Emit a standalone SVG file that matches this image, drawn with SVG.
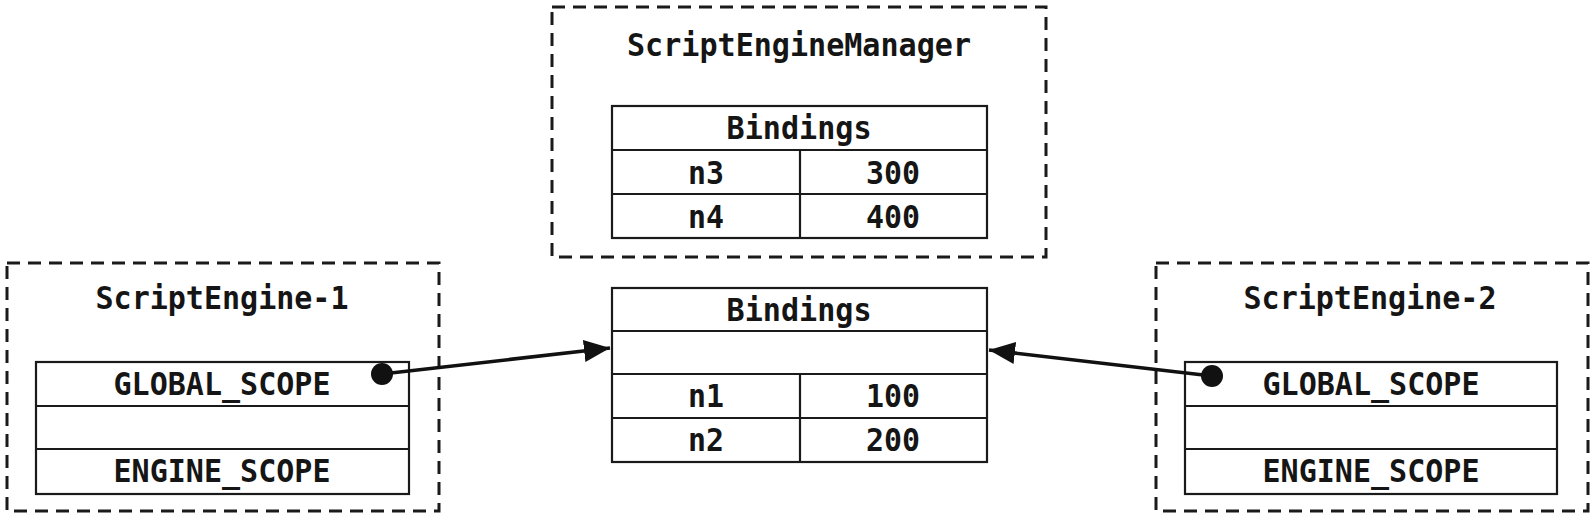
<svg xmlns="http://www.w3.org/2000/svg" width="1594" height="516" viewBox="0 0 1594 516">
<style>
.dash{fill:none;stroke:#1a1a1a;stroke-width:3;stroke-dasharray:13 8}
.cell{fill:#fff;stroke:#1a1a1a;stroke-width:2.2}
.t{font-family:"DejaVu Sans Mono","Liberation Mono",monospace;font-size:32px;font-weight:bold;fill:#151515;text-anchor:middle}
.conn{stroke:#111;stroke-width:3.5;fill:none}
</style>
<defs>
<marker id="arr" viewBox="0 0 26 22" refX="26" refY="11" markerWidth="26" markerHeight="22" markerUnits="userSpaceOnUse" orient="auto">
<path d="M0,0 L26,11 L0,22 z" fill="#111"/>
</marker>
</defs>
<rect width="1594" height="516" fill="#fff"/>
<g id="manager">
<rect class="dash" x="552" y="7" width="494" height="250"/>
<text class="t" x="799" y="56" textLength="344" lengthAdjust="spacingAndGlyphs">ScriptEngineManager</text>
<rect class="cell" x="612" y="106" width="375" height="132"/>
<line class="cell" x1="612" y1="150" x2="987" y2="150"/>
<line class="cell" x1="612" y1="194" x2="987" y2="194"/>
<line class="cell" x1="800" y1="150" x2="800" y2="238"/>
<text class="t" x="799" y="139" textLength="145" lengthAdjust="spacingAndGlyphs">Bindings</text>
<text class="t" x="706" y="184" textLength="36" lengthAdjust="spacingAndGlyphs">n3</text>
<text class="t" x="893" y="184" textLength="54" lengthAdjust="spacingAndGlyphs">300</text>
<text class="t" x="706" y="228" textLength="36" lengthAdjust="spacingAndGlyphs">n4</text>
<text class="t" x="893" y="228" textLength="54" lengthAdjust="spacingAndGlyphs">400</text>
</g>
<g id="bindings">
<rect class="cell" x="612" y="288" width="375" height="174"/>
<line class="cell" x1="612" y1="331" x2="987" y2="331"/>
<line class="cell" x1="612" y1="374" x2="987" y2="374"/>
<line class="cell" x1="612" y1="418" x2="987" y2="418"/>
<line class="cell" x1="800" y1="374" x2="800" y2="462"/>
<text class="t" x="799" y="321" textLength="145" lengthAdjust="spacingAndGlyphs">Bindings</text>
<text class="t" x="706" y="407" textLength="36" lengthAdjust="spacingAndGlyphs">n1</text>
<text class="t" x="893" y="407" textLength="54" lengthAdjust="spacingAndGlyphs">100</text>
<text class="t" x="706" y="451" textLength="36" lengthAdjust="spacingAndGlyphs">n2</text>
<text class="t" x="893" y="451" textLength="54" lengthAdjust="spacingAndGlyphs">200</text>
</g>
<g id="engine1">
<rect class="dash" x="7" y="263" width="432" height="248"/>
<text class="t" x="222" y="309" textLength="253" lengthAdjust="spacingAndGlyphs">ScriptEngine-1</text>
<rect class="cell" x="36" y="362" width="373" height="132"/>
<line class="cell" x1="36" y1="406" x2="409" y2="406"/>
<line class="cell" x1="36" y1="449" x2="409" y2="449"/>
<text class="t" x="222" y="395" textLength="217" lengthAdjust="spacingAndGlyphs">GLOBAL_SCOPE</text>
<text class="t" x="222" y="482" textLength="217" lengthAdjust="spacingAndGlyphs">ENGINE_SCOPE</text>
</g>
<g id="engine2">
<rect class="dash" x="1156" y="263" width="432" height="248"/>
<text class="t" x="1370" y="309" textLength="253" lengthAdjust="spacingAndGlyphs">ScriptEngine-2</text>
<rect class="cell" x="1185" y="362" width="372" height="132"/>
<line class="cell" x1="1185" y1="406" x2="1557" y2="406"/>
<line class="cell" x1="1185" y1="449" x2="1557" y2="449"/>
<text class="t" x="1371" y="395" textLength="217" lengthAdjust="spacingAndGlyphs">GLOBAL_SCOPE</text>
<text class="t" x="1371" y="482" textLength="217" lengthAdjust="spacingAndGlyphs">ENGINE_SCOPE</text>
</g>
<g id="connectors">
<line class="conn" x1="382" y1="374" x2="610" y2="348" marker-end="url(#arr)"/>
<circle cx="382" cy="374" r="11" fill="#111"/>
<line class="conn" x1="1212" y1="376" x2="989" y2="350" marker-end="url(#arr)"/>
<circle cx="1212" cy="376" r="11" fill="#111"/>
</g>
</svg>
